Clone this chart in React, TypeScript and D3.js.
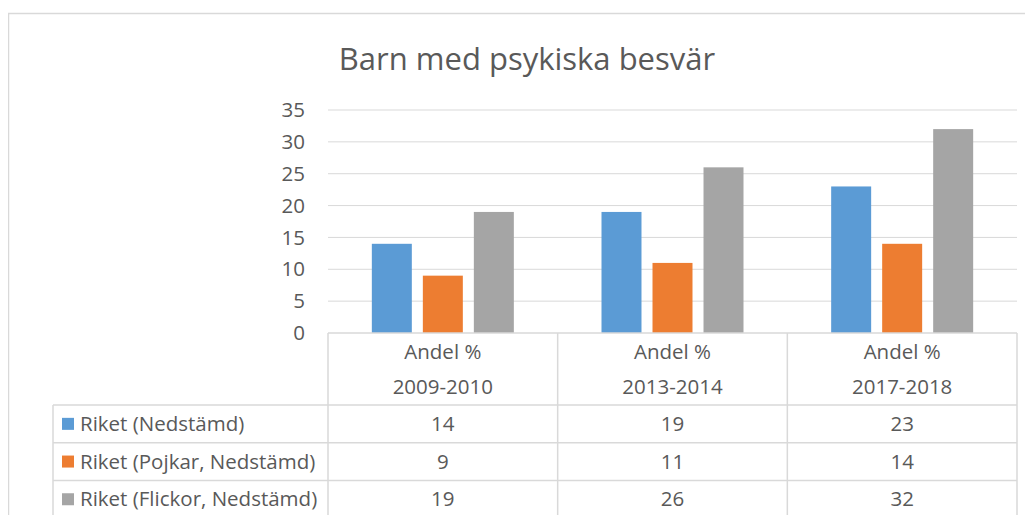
import React from "react";
import * as d3 from "d3";

const categories = ["2009-2010", "2013-2014", "2017-2018"];
const headerPrefix = "Andel %";
const seriesNames = [
  "Riket (Nedstämd)",
  "Riket (Pojkar, Nedstämd)",
  "Riket (Flickor, Nedstämd)",
];
const nedstamd = [14, 19, 23];
const pojkar = [9, 11, 14];
const flickor = [19, 26, 32];
const yTicks = [0, 5, 10, 15, 20, 25, 30, 35];

const seriesValues = [nedstamd, pojkar, flickor];
const colors = ["#5B9BD5", "#ED7D31", "#A5A5A5"];

const font = "'Open Sans', sans-serif";
const textColor = "#595959";
const lineColor = "#D9D9D9";
const labelSize = 20.5;

export default function App() {
  const width = 1033;
  const height = 523;
  const plot = { left: 328, right: 1017, top: 110, bottom: 333 };
  const rowH = 37.7;
  const tableTop = 405;
  const tableLeft = 53;

  const x0 = d3
    .scaleBand()
    .domain(categories)
    .range([plot.left, plot.right])
    .padding(0);
  const y = d3
    .scaleLinear()
    .domain([0, 35])
    .range([plot.bottom, plot.top]);

  const groupW = 142;
  const x1 = d3
    .scaleBand()
    .domain(seriesNames)
    .range([0, groupW])
    .paddingInner(0.216)
    .paddingOuter(0);

  const tableBottom = tableTop + rowH * seriesNames.length;

  return (
    <div style={{ margin: -8 }}>
      <svg width={width} height={height} style={{ display: "block", background: "#fff" }}>
        {/* chart frame */}
        <rect x={8.5} y={13.5} width={1040} height={530} fill="#fff" stroke={lineColor} strokeWidth={1.5} />

        {/* title */}
        <text
          x={527}
          y={70}
          textAnchor="middle"
          fontFamily={font}
          fontSize={31}
          fill={textColor}
        >
          Barn med psykiska besvär
        </text>

        {/* gridlines + y labels */}
        {yTicks.map((t) => (
          <g key={t}>
            {t > 0 && (
              <line x1={plot.left} x2={plot.right} y1={y(t)} y2={y(t)} stroke={lineColor} strokeWidth={1} />
            )}
            <text
              x={305}
              y={y(t)}
              dy="0.35em"
              textAnchor="end"
              fontFamily={font}
              fontSize={labelSize}
              fill={textColor}
            >
              {t}
            </text>
          </g>
        ))}

        {/* bars */}
        {categories.map((c, ci) => {
          const cx = (x0(c) as number) + x0.bandwidth() / 2 - groupW / 2;
          return (
            <g key={c} transform={`translate(${cx},0)`}>
              {seriesNames.map((s, si) => {
                const v = seriesValues[si][ci];
                return (
                  <rect
                    key={s}
                    x={x1(s)}
                    y={y(v)}
                    width={x1.bandwidth()}
                    height={y(0) - y(v)}
                    fill={colors[si]}
                  />
                );
              })}
            </g>
          );
        })}

        {/* data table */}
        <g stroke={lineColor} strokeWidth={1.5} fill="none">
          <line x1={plot.left} x2={plot.right} y1={plot.bottom} y2={plot.bottom} />
          {categories.map((c) => (
            <line key={c} x1={x0(c)} x2={x0(c)} y1={plot.bottom} y2={tableBottom} />
          ))}
          <line x1={plot.right} x2={plot.right} y1={plot.bottom} y2={tableBottom} />
          <line x1={tableLeft} x2={tableLeft} y1={tableTop} y2={tableBottom} />
          {seriesNames.map((s, i) => (
            <line key={s} x1={tableLeft} x2={plot.right} y1={tableTop + rowH * i} y2={tableTop + rowH * i} />
          ))}
          <line x1={tableLeft} x2={plot.right} y1={tableBottom} y2={tableBottom} />
        </g>

        {categories.map((c) => {
          const cx = (x0(c) as number) + x0.bandwidth() / 2;
          return (
            <g key={c} fontFamily={font} fontSize={labelSize} fill={textColor} textAnchor="middle">
              <text x={cx} y={352} dy="0.35em">{headerPrefix}</text>
              <text x={cx} y={387} dy="0.35em">{c}</text>
            </g>
          );
        })}

        {seriesNames.map((s, si) => {
          const cy = tableTop + rowH * si + rowH / 2;
          return (
            <g key={s} fontFamily={font} fontSize={labelSize} fill={textColor}>
              <rect x={62} y={cy - 6} width={12} height={12} fill={colors[si]} />
              <text x={80} y={cy} dy="0.35em">{s}</text>
              {categories.map((c, ci) => (
                <text
                  key={c}
                  x={(x0(c) as number) + x0.bandwidth() / 2}
                  y={cy}
                  dy="0.35em"
                  textAnchor="middle"
                >
                  {seriesValues[si][ci]}
                </text>
              ))}
            </g>
          );
        })}
      </svg>
    </div>
  );
}
